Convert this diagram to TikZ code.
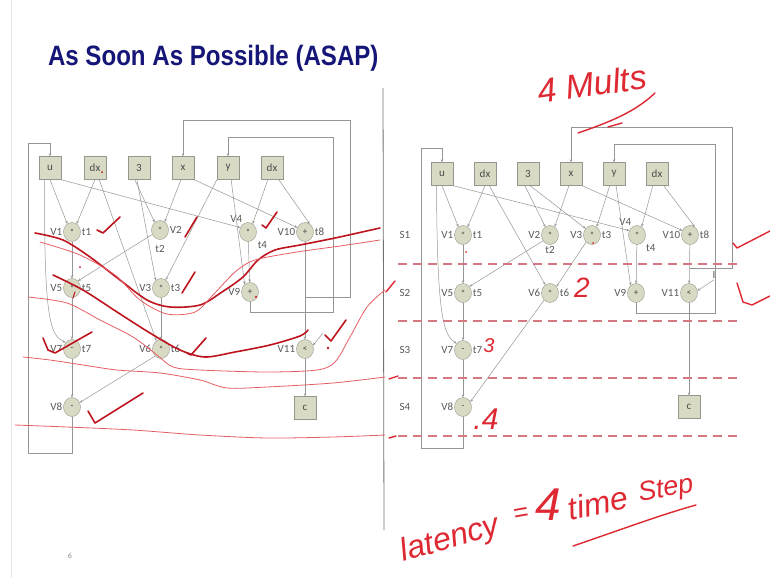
\documentclass[tikz,border=0pt]{standalone}
\usepackage{fontspec}
\setmainfont{Carlito}
\newfontfamily\titlefont{Liberation Sans}
\newfontfamily\handfont{Liberation Sans}
\usetikzlibrary{shapes.geometric,arrows.meta}
\definecolor{nodefill}{RGB}{216,218,196}
\definecolor{nodedraw}{RGB}{150,150,140}
\definecolor{edgecol}{RGB}{150,150,150}
\definecolor{navy}{RGB}{22,22,120}
\definecolor{ink}{RGB}{222,40,50}
\definecolor{darkink}{RGB}{190,20,30}
\definecolor{dashcol}{RGB}{214,120,130}
\begin{document}
\begin{tikzpicture}[x=1pt,y=-1pt,
 box/.style={draw=nodedraw,fill=nodefill,minimum width=22pt,minimum height=23pt,inner sep=0pt,font=\fontsize{11}{11}\selectfont,text=black!70},
 op/.style={ellipse,draw=nodedraw,fill=nodefill,minimum width=17pt,minimum height=19pt,inner sep=0pt,font=\fontsize{9}{9}\selectfont,text=black!75},
 lab/.style={font=\fontsize{11}{11}\selectfont,text=black!65,inner sep=1pt},
 edge/.style={draw=edgecol,line width=0.5pt,-{Stealth[length=3pt,width=2.6pt]}},
 redthick/.style={draw=darkink,line width=1.6pt,line cap=round,line join=round},
 redthin/.style={draw=ink!75,line width=0.8pt,line cap=round},
 redink/.style={draw=ink,line width=1.4pt,line cap=round,line join=round},
 dashline/.style={draw=dashcol,line width=1.3pt,dash pattern=on 9pt off 6pt},
 hand/.style={text=ink,inner sep=0pt,font=\handfont\itshape}
]
\useasboundingbox (0,0) rectangle (770,578);
\fill[white] (0,0) rectangle (770,578);
\draw[black!10,line width=0.6pt] (11,0) -- (11,578);

% title
\node[text=navy,anchor=west,xscale=0.86,font=\titlefont\bfseries\fontsize{28}{28}\selectfont] (title) at (45,58) {As Soon As Possible (ASAP)};
\draw[black!55,line width=0.8pt] (383,88) -- (384,530);
\node[font=\fontsize{8}{8}\selectfont,text=black!45] (pg) at (70,556) {6};

% ===== LEFT GRAPH =====
\node[box] (lu) at (50,168) {u};
\node[box] (ldxa) at (95,168) {dx};
\node[box] (lthree) at (139,168) {3};
\node[box] (lx) at (183,168) {x};
\node[box] (ly) at (228,168) {y};
\node[box] (ldxb) at (272,168) {dx};
\node[op,label={[lab]left:V1},label={[lab]right:t1}] (lv1) at (72,232) {*};
\node[op,label={[lab]right:V2},label={[lab,label distance=4pt]below:t2}] (lv2) at (160,230) {*};
\node[op,label={[lab]120:V4},label={[lab,label distance=3pt]-45:t4}] (lv4) at (248,232) {*};
\node[op,label={[lab]left:V10},label={[lab]right:t8}] (lv10) at (305,232) {+};
\node[op,label={[lab]left:V5},label={[lab]right:t5}] (lv5) at (72,288) {*};
\node[op,label={[lab]left:V3},label={[lab]right:t3}] (lv3) at (161,288) {*};
\node[op,label={[lab]left:V9}] (lv9) at (250,292) {+};
\node[op,label={[lab]left:V7},label={[lab]right:t7}] (lv7) at (72,349) {-};
\node[op,label={[lab]left:V6},label={[lab]right:t6}] (lv6) at (161,349) {*};
\node[op,label={[lab]left:V11}] (lv11) at (305,349) {<};
\node[op,label={[lab]left:V8}] (lv8) at (72,407) {-};
\node[box] (lc) at (305,408) {c};
\coordinate (lk) at (323,333);

\draw[edge] (lu.south) -- (lv1.120);
\draw[edge] (ldxa.south) -- (lv1.60);
\draw[edge] (lu.-115) .. controls (44,320) and (50,335) .. (lv7.135);
\draw[edge] (lu.south east) -- (lv4.150);
\draw[edge] (ldxa.-70) -- (lv6.120);
\draw[edge] (lthree.-110) -- (lv2.125);
\draw[edge] (lthree.-100) -- (lv3.125);
\draw[edge] (lx.-100) -- (lv2.60);
\draw[edge] (lx.south east) -- (lv10.150);
\draw[edge] (ly.south west) -- (lv3.60);
\draw[edge] (ly.-75) -- (lv9.125);
\draw[edge] (ldxb.-110) -- (lv4.60);
\draw[edge] (ldxb.-60) -- (lv10.60);
\draw[edge] (lv1) -- (lv5);
\draw[edge] (lv2.-150) -- (lv5.50);
\draw[edge] (lv3) -- (lv6);
\draw[edge] (lv4) -- (lv9);
\draw[edge] (lv5) -- (lv7);
\draw[edge] (lv7) -- (lv8);
\draw[edge] (lv6.-130) -- (lv8.30);
\draw[edge] (lv10) -- (lv11);
\draw[edge] (lv11) -- (lc);
\draw[edge] (lk) -- (lv11.25);
\draw[edge] (lv8.south) -- (lv8.south |- 0,453) -- (28,453) -- (28,143) -- (lu.north |- 0,143) -- (lu.north);
\draw[edge] (lv10.south |- 0,297) -- (350,297) -- (350,120) -- (lx.north |- 0,120) -- (lx.north);
\draw[edge] (lv9.south) -- (lv9.south |- 0,312) -- (333,312) -- (333,137) -- (ly.north |- 0,137) -- (ly.north);

% ===== RIGHT GRAPH =====
\node[box] (ru) at (442,174) {u};
\node[box] (rdxa) at (485,174) {dx};
\node[box] (rthree) at (528,174) {3};
\node[box] (rx) at (571,174) {x};
\node[box] (ry) at (614,174) {y};
\node[box] (rdxb) at (657,174) {dx};
\node[op,label={[lab]left:V1},label={[lab]right:t1}] (rv1) at (463,235) {*};
\node[op,label={[lab]left:V2},label={[lab,label distance=0pt]below:t2}] (rv2) at (550,235) {*};
\node[op,label={[lab]left:V3},label={[lab]right:t3}] (rv3) at (592,235) {*};
\node[op,label={[lab]120:V4},label={[lab,label distance=2pt]-45:t4}] (rv4) at (637,235) {*};
\node[op,label={[lab]left:V10},label={[lab]right:t8}] (rv10) at (690,235) {+};
\node[op,label={[lab]left:V5},label={[lab]right:t5}] (rv5) at (463,293) {*};
\node[op,label={[lab]left:V6},label={[lab]right:t6}] (rv6) at (550,293) {*};
\node[op,label={[lab]left:V9}] (rv9) at (636,293) {+};
\node[op,label={[lab]left:V11}] (rv11) at (689,293) {<};
\node[op,label={[lab]left:V7},label={[lab]right:t7}] (rv7) at (463,350) {-};
\node[op,label={[lab]left:V8}] (rv8) at (463,407) {-};
\node[box] (rc) at (689,407) {c};
\node[lab] (rk) at (714,275) {I};

\node[lab] (s1) at (405,235) {S1};
\node[lab] (s2) at (405,293) {S2};
\node[lab] (s3) at (405,350) {S3};
\node[lab] (s4) at (405,407) {S4};

\draw[edge] (ru.south) -- (rv1.120);
\draw[edge] (rdxa.south) -- (rv1.60);
\draw[edge] (ru.-115) .. controls (437,320) and (444,335) .. (rv7.135);
\draw[edge] (ru.south east) -- (rv4.150);
\draw[edge] (rdxa.-70) -- (rv6.120);
\draw[edge] (rthree.-105) -- (rv2.120);
\draw[edge] (rthree.-80) -- (rv3.135);
\draw[edge] (rx.-100) -- (rv2.60);
\draw[edge] (rx.south east) -- (rv10.150);
\draw[edge] (ry.-110) -- (rv3.60);
\draw[edge] (ry.-80) -- (rv9.125);
\draw[edge] (rdxb.-110) -- (rv4.60);
\draw[edge] (rdxb.-60) -- (rv10.60);
\draw[edge] (rv1) -- (rv5);
\draw[edge] (rv2.-140) -- (rv5.45);
\draw[edge] (rv3.-130) -- (rv6.45);
\draw[edge] (rv4) -- (rv9);
\draw[edge] (rv10) -- (rv11);
\draw[edge] (rv5) -- (rv7);
\draw[edge] (rv7) -- (rv8);
\draw[edge] (rv6.-130) -- (rv8.35);
\draw[edge] (rv11) -- (rc);
\draw[edge] (rk.south) -- (rv11.15);
\draw[edge] (rv8.south) -- (rv8.south |- 0,448) -- (421,448) -- (421,148) -- (ru.north |- 0,148) -- (ru.north);
\draw[edge] (rv10.south |- 0,268) -- (732,268) -- (732,127) -- (rx.north |- 0,127) -- (rx.north);
\draw[edge] (rv9.south) -- (rv9.south |- 0,313) -- (715,313) -- (715,144) -- (ry.north |- 0,144) -- (ry.north);

% dashed step lines
\draw[dashline] (398,264) -- (742,264);
\draw[dashline] (398,321) -- (742,321);
\draw[dashline] (398,378) -- (742,378);
\draw[dashline] (398,436) -- (742,436);

% ===== RED ANNOTATIONS, LEFT =====
\draw[redthick] plot[smooth] coordinates {(35,233) (63,240) (90,257) (120,280) (147,300) (170,307) (200,305) (222,292) (243,277) (258,260) (275,250) (300,245) (335,238) (380,228)};
\draw[redthick] plot[smooth] coordinates {(53,275) (83,290) (117,312) (150,333) (180,350) (205,357) (235,352) (270,345) (300,336) (308,330)};
\draw[redthin] plot[smooth] coordinates {(40,242) (80,255) (115,275) (140,300) (167,314) (195,312) (213,295) (235,272) (255,260) (297,252) (340,246) (380,240)};
\draw[redthin] plot[smooth] coordinates {(28,297) (67,303) (100,320) (133,337) (157,355) (173,367) (200,370) (267,372) (317,370) (335,362) (350,337) (367,307) (385,290)};
\draw[redthin] plot[smooth] coordinates {(23,357) (50,360) (83,365) (117,370) (160,373) (200,380) (227,388) (267,387) (333,383) (385,377)};
\draw[redthin] plot[smooth] coordinates {(15,425) (67,427) (133,430) (200,435) (267,438) (333,437) (385,435)};
\draw[redthick] (97,230) -- (103,233) -- (120,217);
\draw[redthick] (185,237) -- (197,217);
\draw[redthick] (182,293) -- (195,272);
\draw[redthick] (262,225) -- (266,228) -- (277,212);
\draw[redthick] (43,338) -- (48,350) -- (55,353) -- (92,332);
\draw[redthick] (88,411) -- (95,423) -- (143,393);
\draw[redthick] (187,353) -- (191,355) -- (206,338);
\draw[redthick] (325,335) -- (331,341) -- (346,320);
\fill[darkink] (328,348) circle (1.3pt);
\fill[darkink] (102,172) circle (1pt);
\fill[darkink] (256,297) circle (1.2pt);
\fill[darkink] (80,267) circle (1pt);
\draw[redthick,line width=1pt] (75,292) -- (73,298);

% ===== RED ANNOTATIONS, RIGHT =====
\node[hand,rotate=8,font=\handfont\itshape\fontsize{34}{34}\selectfont] (mults) at (592,84) {4 Mults};
\draw[redink] (578,133) .. controls (610,122) and (635,112) .. (655,93);
\draw[redink] (608,127) -- (622,123);
\draw[redink] (733,243) -- (737,248) -- (770,231);
\draw[redink] (737,283) -- (743,302) -- (752,305) -- (770,296);
\draw[redink] (386,292) -- (395,281);
\draw[redink] (389,379) -- (398,376);
\draw[redink] (389,438) -- (396,436);
\fill[ink] (466,252) circle (1pt);
\fill[ink] (593,243) circle (1pt);
\node[hand,font=\handfont\itshape\fontsize{28}{28}\selectfont] (two) at (582,288) {2};
\node[hand,font=\handfont\itshape\fontsize{20}{20}\selectfont] (three3) at (489,346) {3};
\node[hand,font=\handfont\itshape\fontsize{30}{30}\selectfont] (four4) at (486,419) {.4};
\node[hand,rotate=16,font=\handfont\itshape\fontsize{32}{32}\selectfont] (lat) at (450,540) {latency};
\node[hand,rotate=10,font=\handfont\itshape\fontsize{26}{26}\selectfont] (eq) at (521,515) {=};
\node[hand,font=\handfont\itshape\fontsize{46}{46}\selectfont] (four) at (548,505) {4};
\node[hand,rotate=12,font=\handfont\itshape\fontsize{32}{32}\selectfont] (time) at (598,503) {time};
\node[hand,rotate=10,font=\handfont\itshape\fontsize{27}{27}\selectfont] (step) at (666,490) {Step};
\draw[redink] (573,546) .. controls (620,530) and (660,515) .. (696,505);
\end{tikzpicture}
\end{document}
